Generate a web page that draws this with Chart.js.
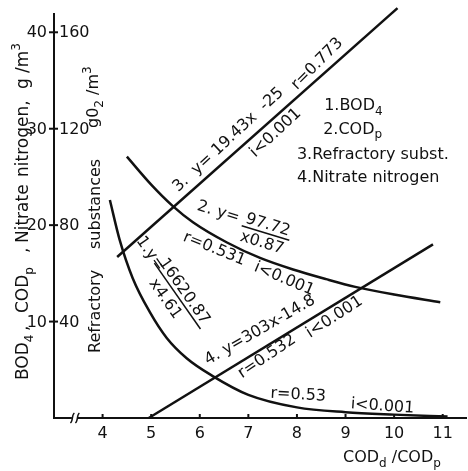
<!DOCTYPE html>
<html>
<head>
<meta charset="utf-8">
<script src="https://cdn.jsdelivr.net/npm/chart.js@4"></script>
<style>
  html, body { margin: 0; padding: 0; background: #fff; }
  canvas { display: block; }
</style>
</head>
<body>
<canvas id="grafico" width="468" height="471"></canvas>
<script>
// Datos (escala izquierda, g/m3)
const bodX = [4.15, 4.35, 4.62, 4.97, 5.32, 5.73, 6.25, 7, 8, 9, 10, 11.1];
const bodY = [22.6, 18.5, 14.5, 11.0, 8.3, 6.2, 4.4, 2.4, 1.1, 0.6, 0.35, 0.15];

const codX = [4.5, 5.0, 5.44, 5.86, 6.56, 7.24, 7.92, 8.6, 9.2, 10.0, 10.95];
const codY = [27.1, 24.2, 22.0, 20.3, 18.2, 16.6, 15.4, 14.4, 13.6, 12.8, 12.0];

const refX = [4.3, 10.07];
const refY = [16.7, 42.5];

const nitX = [4.95, 10.8];
const nitY = [0, 18.0];

const xTicks = [4, 5, 6, 7, 8, 9, 10, 11];
const yTicks = [10, 20, 30, 40];
const yTicksDer = ["40", "80", "120", "160"];

const FUENTE = '"DejaVu Sans", sans-serif';

const aPuntos = (xs, ys) => xs.map((x, i) => ({ x, y: ys[i] }));

// Texto con subíndices / superíndices
const textoRico = (ctx, partes, tam) => {
  let x = 0;
  partes.forEach(([t, tipo]) => {
    const s = tipo ? Math.round(tam * 0.72) : tam;
    ctx.font = `${s}px ${FUENTE}`;
    const dy = tipo === "sub" ? tam * 0.3 : tipo === "sup" ? -tam * 0.42 : 0;
    ctx.fillText(t, x, dy);
    x += ctx.measureText(t).width;
  });
  return x;
};

const enPunto = (ctx, chart, x, y, ang, dibujar) => {
  const sx = chart.scales.x, sy = chart.scales.y;
  ctx.save();
  ctx.translate(sx.getPixelForValue(x), sy.getPixelForValue(y));
  ctx.rotate((ang * Math.PI) / 180);
  dibujar();
  ctx.restore();
};

// Etiquetas sobre las curvas
const etiquetas = [
  { x: 5.555, y: 23.4, ang: -43, t: "3.  y= 19.43x  -25" },
  { x: 8.0, y: 34.0, ang: -45, t: "r=0.773" },
  { x: 7.14, y: 27.0, ang: -43, t: "i<0.001" },
  { x: 5.64, y: 18.4, ang: 22, t: "r=0.531" },
  { x: 7.1, y: 15.3, ang: 23, t: "i<0.001" },
  { x: 6.17, y: 5.5, ang: -30, t: "4. y=303x-14.8" },
  { x: 6.87, y: 4.1, ang: -34, t: "r=0.532" },
  { x: 8.27, y: 8.3, ang: -33, t: "i<0.001" },
  { x: 7.45, y: 2.1, ang: 3, t: "r=0.53" },
  { x: 9.1, y: 1.0, ang: 4, t: "i<0.001" },
];

// Ecuaciones con fracción
const fracciones = [
  { x: 5.93, y: 21.6, ang: 17, pre: "2. y=", num: "97.72", den: "x0.87", nx: 50, ny: -2, by: 2, dx: 50, dy: 17 },
  { x: 4.69, y: 18.4, ang: 55, pre: "1.y=", num: "16620.87", den: "x4.61", nx: 31, ny: -6, by: -2, dx: 42, dy: 14 },
];

const leyenda = [
  { x: 8.56, y: 31.9, partes: [["1.BOD"], ["4", "sub"]] },
  { x: 8.54, y: 29.5, partes: [["2.COD"], ["p", "sub"]] },
  { x: 8.0, y: 26.9, partes: [["3.Refractory subst."]] },
  { x: 8.0, y: 24.5, partes: [["4.Nitrate nitrogen"]] },
];

// Título izquierdo por trozos: [altura de inicio en px, partes]
const tituloIzq = [
  [380, [["BOD"], ["4", "sub"]]],
  [331, [[","]]],
  [313, [["COD"], ["p", "sub"]]],
  [253, [[","]]],
  [243, [["Nitrate"]]],
  [177, [["nitrogen,"]]],
  [89, [["g"]]],
  [73, [["/m"], ["3", "sup"]]],
];

const tituloDer = [
  [100, 353, [["Refractory"]]],
  [100, 249, [["substances"]]],
  [98, 128, [["g0"], ["2", "sub"], [" /m"], ["3", "sup"]]],
];

const dibujoEjes = {
  id: "dibujoEjes",
  afterDraw(chart) {
    const ctx = chart.ctx;
    const { left, right, top, bottom } = chart.chartArea;
    const sx = chart.scales.x, sy = chart.scales.y;
    ctx.save();
    ctx.strokeStyle = "#111";
    ctx.fillStyle = "#111";
    ctx.lineWidth = 2;

    // Ejes
    ctx.beginPath();
    ctx.moveTo(left, top);
    ctx.lineTo(left, bottom);
    ctx.lineTo(right, bottom);
    ctx.stroke();

    // Marcas eje Y
    ctx.font = `16px ${FUENTE}`;
    ctx.textBaseline = "middle";
    yTicks.forEach((v, i) => {
      const py = sy.getPixelForValue(v);
      ctx.beginPath();
      ctx.moveTo(left - 5, py);
      ctx.lineTo(left + 4, py);
      ctx.stroke();
      ctx.textAlign = "right";
      ctx.fillText(String(v), left - 7, py + 1);
      ctx.textAlign = "left";
      ctx.fillText(yTicksDer[i], left + 5, py + 1);
    });

    // Marcas eje X
    ctx.textAlign = "center";
    ctx.textBaseline = "alphabetic";
    xTicks.forEach((v) => {
      const px = sx.getPixelForValue(v);
      ctx.beginPath();
      ctx.moveTo(px, bottom - 4);
      ctx.lineTo(px, bottom);
      ctx.stroke();
      ctx.fillText(String(v), px, bottom + 20);
    });

    // Corte del eje
    const pc = sx.getPixelForValue(3.43);
    ctx.fillStyle = "#fff";
    ctx.fillRect(pc - 3, bottom - 2, 6, 4);
    ctx.lineWidth = 1.5;
    [-2.5, 2.5].forEach((d) => {
      ctx.beginPath();
      ctx.moveTo(pc + d - 2, bottom + 5);
      ctx.bezierCurveTo(pc + d + 1, bottom + 3, pc + d - 1, bottom - 3, pc + d + 2, bottom - 5);
      ctx.stroke();
    });
    ctx.fillStyle = "#111";

    // Título eje X
    ctx.textAlign = "left";
    ctx.save();
    ctx.translate(343, 462);
    textoRico(ctx, [["COD"], ["d", "sub"], [" /COD"], ["p", "sub"]], 16);
    ctx.restore();

    // Títulos eje Y
    tituloIzq.forEach(([py, partes]) => {
      ctx.save();
      ctx.translate(27.5, py);
      ctx.rotate(-Math.PI / 2);
      textoRico(ctx, partes, 17);
      ctx.restore();
    });

    tituloDer.forEach(([px, py, partes]) => {
      ctx.save();
      ctx.translate(px, py);
      ctx.rotate(-Math.PI / 2);
      textoRico(ctx, partes, 16);
      ctx.restore();
    });

    // Leyenda
    leyenda.forEach((l) => {
      enPunto(ctx, chart, l.x, l.y, 0, () => textoRico(ctx, l.partes, 16));
    });

    // Etiquetas de ecuaciones
    etiquetas.forEach((e) => {
      enPunto(ctx, chart, e.x, e.y, e.ang, () => {
        ctx.font = `16px ${FUENTE}`;
        ctx.fillText(e.t, 0, 0);
      });
    });

    fracciones.forEach((f) => {
      enPunto(ctx, chart, f.x, f.y, f.ang, () => {
        ctx.font = `16px ${FUENTE}`;
        ctx.fillText(f.pre, 0, 0);
        ctx.fillText(f.num, f.nx, f.ny);
        const wn = ctx.measureText(f.num).width;
        ctx.lineWidth = 1.5;
        ctx.beginPath();
        ctx.moveTo(f.nx - 2, f.by);
        ctx.lineTo(f.nx + wn + 2, f.by);
        ctx.stroke();
        ctx.fillText(f.den, f.dx, f.dy);
      });
    });

    ctx.restore();
  },
};

const estiloLinea = {
  showLine: true,
  borderColor: "#111",
  borderWidth: 2.5,
  pointRadius: 0,
  fill: false,
};

const ctx = document.querySelector("#grafico").getContext("2d");

new Chart(ctx, {
  type: "scatter",
  data: {
    datasets: [
      { label: "1.BOD4", data: aPuntos(bodX, bodY), cubicInterpolationMode: "monotone", ...estiloLinea },
      { label: "2.CODp", data: aPuntos(codX, codY), cubicInterpolationMode: "monotone", ...estiloLinea },
      { label: "3.Refractory subst.", data: aPuntos(refX, refY), ...estiloLinea },
      { label: "4.Nitrate nitrogen", data: aPuntos(nitX, nitY), ...estiloLinea },
    ],
  },
  options: {
    responsive: false,
    animation: false,
    clip: false,
    layout: { padding: { left: 54, right: 1, top: 13, bottom: 53 } },
    scales: {
      x: { type: "linear", min: 3, max: 11.5, display: false },
      y: { type: "linear", min: 0, max: 42, display: false },
    },
    plugins: {
      legend: { display: false },
      tooltip: { enabled: false },
    },
  },
  plugins: [dibujoEjes],
});
</script>
</body>
</html>
